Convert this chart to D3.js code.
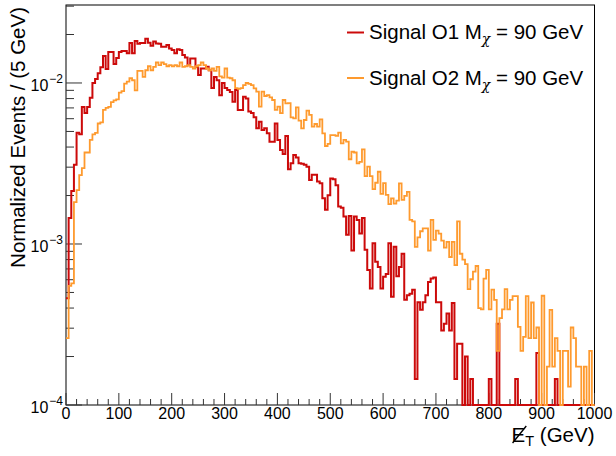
<!DOCTYPE html>
<html>
<head>
<meta charset="utf-8">
<script src="https://cdn.jsdelivr.net/npm/d3@7/dist/d3.min.js"></script>
<style>
  body { margin: 0; background: #fff; }
  svg { display: block; }
  text { font-family: "Liberation Sans", Arial, Helvetica, sans-serif; fill: #000; }
</style>
</head>
<body>
<svg id="chart" width="616" height="456"></svg>
<script>
// Missing transverse energy distributions, 5 GeV bins from 0 to 1000 GeV
const binWidth = 5;
const xTicks = [0, 100, 200, 300, 400, 500, 600, 700, 800, 900, 1000];
const yExponents = [-4, -3, -2];
const legendLabels = ["Signal O1 M", "Signal O2 M"];
const legendSub = "\u03C7";
const legendTail = " = 90 GeV";

const signalO1 = [
  4.6e-4, 1.45e-3, 2.13e-3, 3.1e-3, 4.9e-3, 4.8e-3, 7.1e-3, 6.5e-3, 7.1e-3, 8.1e-3,
  1.0e-2, 1.06e-2, 1.15e-2, 1.25e-2, 1.47e-2, 1.22e-2, 1.56e-2, 1.56e-2, 1.31e-2, 1.43e-2,
  1.56e-2, 1.58e-2, 1.58e-2, 1.53e-2, 1.77e-2, 1.53e-2, 1.82e-2, 1.75e-2, 1.77e-2, 1.77e-2,
  1.88e-2, 1.78e-2, 1.7e-2, 1.81e-2, 1.76e-2, 1.75e-2, 1.68e-2, 1.68e-2, 1.72e-2, 1.64e-2,
  1.6e-2, 1.53e-2, 1.62e-2, 1.6e-2, 1.49e-2, 1.44e-2, 1.29e-2, 1.42e-2, 1.42e-2, 1.26e-2,
  1.12e-2, 1.23e-2, 1.23e-2, 1.26e-2, 1.2e-2, 9.3e-3, 1.09e-2, 1.04e-2, 8.4e-3, 1.0e-2,
  9.3e-3, 9.05e-3, 8.8e-3, 7.65e-3, 9.05e-3, 6.8e-3, 6.8e-3, 8.2e-3, 8.0e-3, 6.64e-3,
  6.5e-3, 6.12e-3, 5.24e-3, 5.75e-3, 5.1e-3, 5.24e-3, 4.87e-3, 4.32e-3, 4.32e-3, 5.6e-3,
  4.43e-3, 3.84e-3, 3.62e-3, 4.69e-3, 2.91e-3, 3.17e-3, 3.57e-3, 3.45e-3, 3.17e-3, 3.15e-3,
  3.1e-3, 3.02e-3, 2.5e-3, 2.69e-3, 2.69e-3, 2.44e-3, 2.38e-3, 1.92e-3, 1.63e-3, 2.01e-3,
  2.55e-3, 2.52e-3, 2.32e-3, 1.71e-3, 1.68e-3, 1.48e-3, 1.14e-3, 1.49e-3, 9.1e-4, 1.48e-3,
  1.41e-3, 1.16e-3, 1.45e-3, 9.2e-4, 6.9e-4, 5.3e-4, 1.01e-3, 7.76e-4, 7.2e-4, 5.3e-4,
  6.27e-4, 6.5e-4, 1.01e-3, 4.7e-4, 9.6e-4, 6.3e-4, 7.2e-4, 8.7e-4, 4.5e-4, 4.8e-4,
  4.9e-4, 5.2e-4, 1.45e-4, 4.35e-4, 3.9e-4, 4.35e-4, 4.8e-4, 5.8e-4, 6.1e-4, 6.2e-4,
  4.35e-4, 4.35e-4, 2.9e-4, 3.2e-4, 3.7e-4, 2.9e-4, 4.3e-4, 1.45e-4, 2.4e-4, 2.4e-4,
  0, 2.0e-4, 0, 1.45e-4, 0, 0, 0, 0, 0, 0,
  1.45e-4, 0, 0, 3.2e-4, 0, 0, 0, 0, 0, 0,
  1.45e-4, 0, 0, 0, 0, 0, 0, 0, 2.1e-4, 0,
  0, 0, 0, 0, 0, 1.45e-4, 0, 0, 0, 0,
  0, 0, 0, 0, 0, 0, 0, 0, 0, 0
];

const signalO2 = [
  2.6e-4, 5.5e-4, 5.7e-4, 1.82e-3, 2.16e-3, 2.68e-3, 2.96e-3, 3.7e-3, 3.7e-3, 4.43e-3,
  4.8e-3, 4.9e-3, 5.6e-3, 5.7e-3, 6.8e-3, 7.0e-3, 7.1e-3, 7.6e-3, 7.8e-3, 7.9e-3,
  8.7e-3, 8.9e-3, 9.9e-3, 1.02e-2, 1.07e-2, 1.04e-2, 9.0e-3, 1.19e-2, 1.19e-2, 1.09e-2,
  1.2e-2, 1.27e-2, 1.2e-2, 1.26e-2, 1.34e-2, 1.29e-2, 1.34e-2, 1.31e-2, 1.27e-2, 1.29e-2,
  1.27e-2, 1.29e-2, 1.27e-2, 1.34e-2, 1.26e-2, 1.27e-2, 1.29e-2, 1.26e-2, 1.23e-2, 1.27e-2,
  1.29e-2, 1.34e-2, 1.29e-2, 1.23e-2, 1.2e-2, 1.23e-2, 1.19e-2, 1.26e-2, 1.1e-2, 1.08e-2,
  1.23e-2, 1.08e-2, 1.07e-2, 1.04e-2, 9.3e-3, 9.2e-3, 9.3e-3, 9.7e-3, 1.0e-2, 9.86e-3,
  9.7e-3, 9.27e-3, 8.84e-3, 7.13e-3, 8.84e-3, 8.3e-3, 8.4e-3, 8.15e-3, 7.84e-3, 6.8e-3,
  7.13e-3, 6.5e-3, 7.84e-3, 7.48e-3, 7.5e-3, 6.12e-3, 6.03e-3, 7.06e-3, 5.83e-3, 5.23e-3,
  5.89e-3, 6.73e-3, 6.33e-3, 5.35e-3, 5.56e-3, 5.35e-3, 5.95e-3, 4.87e-3, 4.06e-3, 4.18e-3,
  4.75e-3, 4.75e-3, 4.69e-3, 4.91e-3, 4.22e-3, 4.43e-3, 4.32e-3, 3.36e-3, 3.74e-3, 3.7e-3,
  3.17e-3, 3.24e-3, 3.87e-3, 2.64e-3, 3.02e-3, 2.64e-3, 2.19e-3, 2.4e-3, 2.81e-3, 2.05e-3,
  2.39e-3, 2.02e-3, 1.77e-3, 1.92e-3, 1.78e-3, 1.86e-3, 2.38e-3, 1.88e-3, 1.99e-3, 2.11e-3,
  1.41e-3, 1.38e-3, 9.6e-4, 1.1e-3, 1.2e-3, 1.25e-3, 1.25e-3, 9.1e-4, 1.41e-3, 1.06e-3,
  1.21e-3, 1.16e-3, 1.05e-3, 9.5e-4, 1.03e-3, 8.3e-4, 1.03e-3, 7.4e-4, 1.38e-3, 8.7e-4,
  8.0e-4, 7.5e-4, 5.24e-4, 6.04e-4, 6.73e-4, 7.3e-4, 4.0e-4, 3.93e-4, 6.1e-4, 6.9e-4,
  3.93e-4, 5.2e-4, 4.5e-4, 2.17e-4, 3.46e-4, 3.93e-4, 5.24e-4, 3.93e-4, 4.5e-4, 4.75e-4,
  4.75e-4, 3.06e-4, 2.17e-4, 2.65e-4, 4.75e-4, 2.6e-4, 4.33e-4, 2.6e-4, 3.03e-4, 8.7e-5,
  4.77e-4, 8.7e-5, 1.73e-4, 3.9e-4, 1.73e-4, 2.6e-4, 2.17e-4, 8.7e-5, 2.17e-4, 2.17e-4,
  1.3e-4, 3.03e-4, 2.6e-4, 1.73e-4, 1.73e-4, 8.7e-5, 1.73e-4, 8.7e-5, 2.17e-4, 8.7e-5
];

const colors = ["#cc0a0a", "#fe9a2e"];

const svg = d3.select("#chart");
const frame = { left: 66, right: 594.5, top: 5, bottom: 405 };

const x = d3.scaleLinear().domain([0, 1000]).range([frame.left, frame.right]);
const y = d3.scaleLog().domain([1e-4, 0.0305]).range([frame.bottom, frame.top]);

// frame box
svg.append("rect")
  .attr("x", frame.left).attr("y", frame.top)
  .attr("width", frame.right - frame.left).attr("height", frame.bottom - frame.top)
  .attr("fill", "none").attr("stroke", "#000").attr("stroke-width", 1);

// x ticks: major every 100, minor every 20
const tickColor = "#333";
const xMinor = d3.range(0, 1001, 20);
svg.append("g").selectAll("line").data(xMinor).join("line")
  .attr("x1", d => x(d)).attr("x2", d => x(d))
  .attr("y1", frame.bottom).attr("y2", d => frame.bottom - (d % 100 === 0 ? 12 : 6))
  .attr("stroke", tickColor).attr("stroke-width", 1);

svg.append("g").selectAll("text").data(xTicks).join("text")
  .attr("x", d => x(d)).attr("y", 419)
  .attr("text-anchor", "middle").attr("font-size", 16)
  .text(d => d);

// y ticks: decades plus 2..9 subdivisions
const yMinor = [];
for (let e = -4; e <= -2; e++) {
  for (let m = 1; m <= 9; m++) {
    const v = m * Math.pow(10, e);
    if (v <= y.domain()[1]) yMinor.push({ v, major: m === 1 });
  }
}
svg.append("g").selectAll("line").data(yMinor).join("line")
  .attr("x1", frame.left).attr("x2", d => frame.left + (d.major ? 16 : 8))
  .attr("y1", d => y(d.v)).attr("y2", d => y(d.v))
  .attr("stroke", tickColor).attr("stroke-width", 1);

const yLab = svg.append("g").selectAll("text").data(yExponents).join("text")
  .attr("x", 63).attr("y", d => y(Math.pow(10, d)) + 8)
  .attr("text-anchor", "end").attr("font-size", 16);
yLab.append("tspan").text("10");
yLab.append("tspan").attr("dy", -8).attr("font-size", 12).attr("dx", 1)
  .text(d => "\u2212" + Math.abs(d));

// axis titles
svg.append("text")
  .attr("transform", `translate(25,${frame.top + 2}) rotate(-90)`)
  .attr("text-anchor", "end").attr("font-size", 20.5)
  .text("Normalized Events / (5 GeV)");

const xTitle = svg.append("text")
  .attr("x", frame.right).attr("y", 442)
  .attr("text-anchor", "end").attr("font-size", 20.5);
xTitle.append("tspan").text("E");
xTitle.append("tspan").attr("font-size", 14.5).attr("dy", 4).text("T");
xTitle.append("tspan").attr("dy", -4).text(" (GeV)");
// slash through the E
const eBox = xTitle.node().getExtentOfChar(0);
svg.append("line")
  .attr("x1", eBox.x + 1).attr("y1", eBox.y + eBox.height - 3)
  .attr("x2", eBox.x + eBox.width + 1).attr("y2", eBox.y + 3)
  .attr("stroke", "#000").attr("stroke-width", 1.4);

// step outlines; empty bins sit on the lower frame edge
function stepPoints(vals) {
  const pts = [];
  vals.forEach((v, i) => {
    const yy = v > y.domain()[0] ? y(v) : frame.bottom;
    pts.push([x(i * binWidth), yy], [x((i + 1) * binWidth), yy]);
  });
  return pts;
}
const line = d3.line();
[signalO1, signalO2].forEach((vals, k) => {
  svg.append("path")
    .attr("d", line(stepPoints(vals)))
    .attr("fill", "none")
    .attr("stroke", colors[k])
    .attr("stroke-width", k === 0 ? 2 : 1.8)
    .attr("stroke-linejoin", "miter");
});

// legend
const legRows = [32.5, 78];
legendLabels.forEach((lab, k) => {
  svg.append("line")
    .attr("x1", 347).attr("x2", 364)
    .attr("y1", legRows[k]).attr("y2", legRows[k])
    .attr("stroke", colors[k]).attr("stroke-width", 2);
  const t = svg.append("text")
    .attr("x", 369).attr("y", legRows[k] + 6.5)
    .attr("font-size", 20.5);
  t.append("tspan").text(lab);
  t.append("tspan").attr("font-size", 14).attr("dy", 5)
    .style("font-family", "'DejaVu Serif', serif").style("font-style", "italic")
    .text(legendSub);
  t.append("tspan").attr("dy", -5).text(legendTail);
});
</script>
</body>
</html>
